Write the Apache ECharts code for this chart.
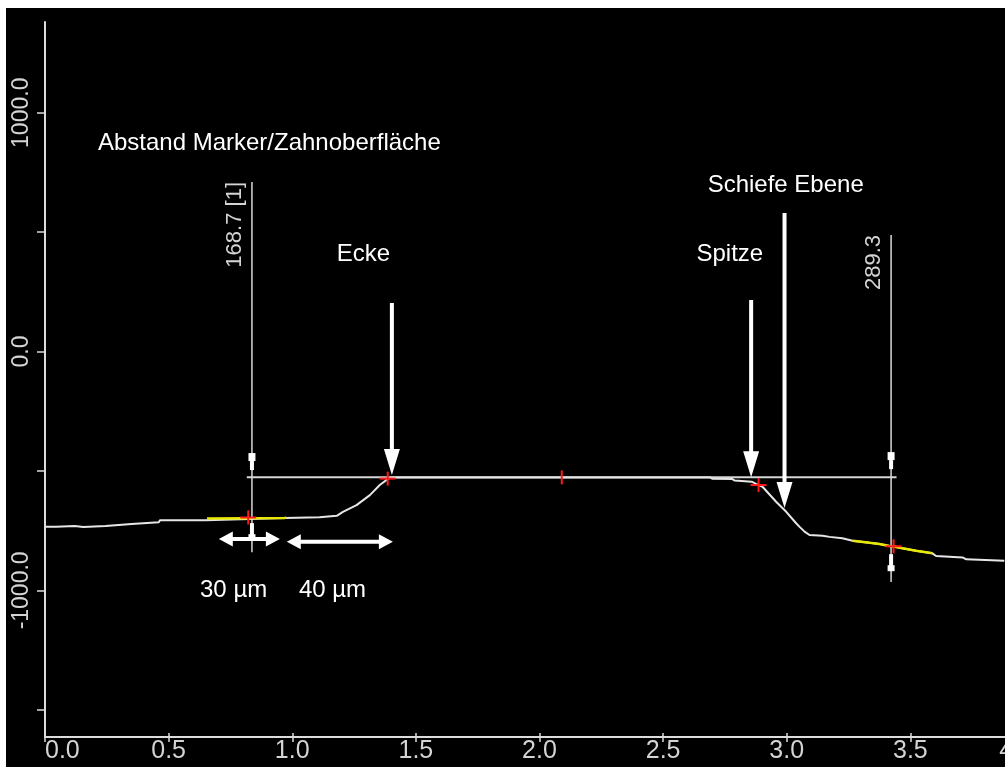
<!DOCTYPE html>
<html>
<head>
<meta charset="utf-8">
<script src="https://cdn.jsdelivr.net/npm/echarts@6/dist/echarts.min.js"></script>
<style>
  html, body { margin: 0; padding: 0; background: #fff; width: 1005px; height: 767px; overflow: hidden; }
  #chart { position: absolute; left: 6px; top: 8px; width: 999px; height: 759px; background: #000; }
</style>
</head>
<body>
<div id="chart"></div>
<script>
// Surface profile across the tooth: position in mm, height in µm
const profileX = [0, 0.045, 0.05, 0.12, 0.125, 0.155, 0.16, 0.245, 0.25, 0.35, 0.355, 0.46, 0.465, 0.65, 0.655,
  0.97, 0.975, 1.11, 1.115, 1.18, 1.205, 1.26, 1.314, 1.354, 1.386, 1.40, 2.69, 2.70, 2.78, 2.79, 2.858, 2.886,
  2.902, 2.957, 2.998, 3.038, 3.052, 3.072, 3.092, 3.145, 3.173, 3.225, 3.266, 3.335, 3.375, 3.415, 3.432,
  3.468, 3.523, 3.589, 3.604, 3.711, 3.726, 3.88];
const profileY = [-734, -734, -730, -730, -735, -735, -730, -730, -722, -722, -715, -715, -706, -706, -699,
  -697, -694, -694, -688, -688, -671, -643, -601, -559, -534, -527, -527, -533, -534, -540, -545, -559,
  -566, -629, -671, -719, -734, -754, -768, -771, -776, -782, -792, -801, -806, -814, -816,
  -824, -834, -845, -856, -862, -870, -876];

// Highlighted (evaluated) stretches of the profile, mm
const highlightRanges = [[0.655, 0.975], [3.266, 3.589]];

// Horizontal reference line through the edge and the tip
const refLevel = -526;
const refFrom = 0.816;
const refTo = 3.444;

// Distance markers: depth of the surface below the reference line, µm
const markerX = [0.837, 3.422];
const markerCrossX = [0.822, 3.432];
const markerDepth = [168.7, 289.3];
const markerText = ['168.7 [1]', '289.3'];
const markerTop = [710, 488];
const markerBottom = [-840, -965];
const handleUpper = [-446, -442];
const handleLower = [-752, -882];

// Measuring points on the profile (Ecke, Spitze) and the centre tick
const pointX = [1.386, 2.886];
const pointY = [-532, -559];
const centreX = [2.09];
const centreY = [-527];

// Axis ticks
const yTickValues = [-1500, -1000, -500, 0, 500, 1000];
const yLabelValues = [-1000, 0, 1000];

// Annotation arrows pointing down at the profile: x, top, tip
const arrowX = [1.403, 2.856, 2.991];
const arrowTop = [203, 216, 580];
const arrowTip = [-517, -526, -655];

// Double-headed span arrows: from, to, level
const spanFrom = [0.703, 0.978];
const spanTo = [0.950, 1.407];
const spanLevel = [-785, -796];

// Annotation texts: left edge x, centre y
const noteText = ['Abstand Marker/Zahnoberfläche', 'Ecke', 'Spitze', 'Schiefe Ebene', '30 µm', '40 µm'];
const noteX = [0.214, 1.180, 2.635, 2.680, 0.627, 1.027];
const noteY = [873, 408, 408, 697, -999, -999];

const profile = profileX.map((x, i) => [x, profileY[i]]);
const highlightSeries = highlightRanges.map(r => ({
  type: 'line',
  data: profile.filter(p => p[0] >= r[0] && p[0] <= r[1]),
  showSymbol: false,
  lineStyle: { color: '#e8e800', width: 2.5 },
  z: 4,
  silent: true
}));

// crosses: full "+" for the measuring points, vertical tick for the centre
const crossData = pointX.map((x, i) => [x, pointY[i], 1])
  .concat(markerCrossX.map((x, i) => [x, refLevel - markerDepth[i], 1]))
  .concat(centreX.map((x, i) => [x, centreY[i], 0]));

const axisColor = '#dcdcdc';
const labelColor = '#d4d4d4';
const red = '#ff1a1a';
const labelFont = 'Liberation Sans, Arial, sans-serif';

const chart = echarts.init(document.getElementById('chart'), null, { renderer: 'canvas' });

function cross(c, hx, vy) {
  const parts = [
    { type: 'line', shape: { x1: c[0], y1: c[1] - vy, x2: c[0], y2: c[1] + vy }, style: { stroke: red, lineWidth: 2 } }
  ];
  if (hx > 0) {
    parts.push({ type: 'line', shape: { x1: c[0] - hx, y1: c[1], x2: c[0] + hx, y2: c[1] }, style: { stroke: red, lineWidth: 2 } });
  }
  return parts;
}

chart.setOption({
  backgroundColor: '#000',
  animation: false,
  grid: { left: 39, top: 14, bottom: 30, right: -29, outerBoundsMode: 'none', containLabel: false },
  xAxis: [{
    type: 'value', min: 0, max: 4, interval: 0.5,
    axisLine: { onZero: false, lineStyle: { color: axisColor, width: 2 } },
    axisTick: { show: true, length: 5, lineStyle: { color: axisColor, width: 1.5 } },
    axisLabel: {
      color: labelColor, fontSize: 25, fontFamily: labelFont, margin: 2,
      alignMinLabel: 'left', alignMaxLabel: 'right', showMinLabel: true, showMaxLabel: true,
      formatter: v => v.toFixed(1)
    },
    splitLine: { show: false }
  }, {
    type: 'value', min: 0, max: 4, interval: 0.5, position: 'bottom',
    axisLine: { show: false, onZero: false },
    axisTick: { show: true, inside: true, length: 4, lineStyle: { color: axisColor, width: 1.5 } },
    axisLabel: { show: false },
    splitLine: { show: false }
  }],
  yAxis: {
    type: 'value', min: -1614, max: 1380,
    axisLine: { onZero: false, lineStyle: { color: axisColor, width: 2 } },
    axisTick: { show: true, length: 8, customValues: yTickValues, lineStyle: { color: axisColor, width: 1.5 } },
    axisLabel: {
      customValues: yLabelValues, rotate: 90, margin: 12,
      color: labelColor, fontSize: 23, fontFamily: labelFont,
      formatter: v => v.toFixed(1)
    },
    splitLine: { show: false }
  },
  series: [
    {
      type: 'line', data: profile, showSymbol: false, silent: true,
      lineStyle: { color: '#e6e6e6', width: 2 }, z: 3
    },
    ...highlightSeries,
    {
      type: 'line', data: [[refFrom, refLevel], [refTo, refLevel]], showSymbol: false, silent: true,
      lineStyle: { color: '#d6d6d6', width: 2 }, z: 2
    },
    {
      // distance markers with handles and value labels
      type: 'custom', silent: true, z: 5,
      data: markerX.map((x, i) => [x, markerTop[i]]),
      renderItem(params, api) {
        const i = params.dataIndex;
        const t = api.coord([markerX[i], markerTop[i]]);
        const b = api.coord([markerX[i], markerBottom[i]]);
        const hu = api.coord([markerX[i], handleUpper[i]]);
        const hl = api.coord([markerX[i], handleLower[i]]);
        return {
          type: 'group', children: [
            { type: 'line', shape: { x1: t[0], y1: t[1], x2: b[0], y2: b[1] }, style: { stroke: '#d8d8d8', lineWidth: 1.5 } },
            { type: 'rect', shape: { x: hu[0] - 3.5, y: hu[1] - 5, width: 7, height: 8 }, style: { fill: '#fff' } },
            { type: 'rect', shape: { x: hu[0] - 2, y: hu[1] + 3, width: 4, height: 9 }, style: { fill: '#fff' } },
            { type: 'rect', shape: { x: hl[0] - 2, y: hl[1] - 8, width: 4, height: 12 }, style: { fill: '#fff' } },
            { type: 'rect', shape: { x: hl[0] - 3.5, y: hl[1] + 3, width: 7, height: 6 }, style: { fill: '#fff' } },
            {
              type: 'text', x: t[0] - 17, y: t[1], rotation: Math.PI / 2,
              style: {
                text: markerText[i], fill: labelColor, fontSize: 22, fontFamily: labelFont,
                align: 'right', verticalAlign: 'middle'
              }
            }
          ]
        };
      }
    },
    {
      // red measuring crosses
      type: 'custom', silent: true, z: 6,
      data: crossData,
      renderItem(params, api) {
        const c = api.coord([api.value(0), api.value(1)]);
        const full = crossData[params.dataIndex][2] === 1;
        return { type: 'group', children: cross(c, full ? 8 : 0, 7) };
      }
    },
    {
      // downward annotation arrows
      type: 'custom', silent: true, z: 7,
      data: arrowX.map((x, i) => [x, arrowTop[i], arrowTip[i]]),
      renderItem(params, api) {
        const i = params.dataIndex;
        const t = api.coord([arrowX[i], arrowTop[i]]);
        const p = api.coord([arrowX[i], arrowTip[i]]);
        const x = t[0], hy = p[1] - 26;
        return {
          type: 'polygon',
          shape: { points: [[x - 2, t[1]], [x + 2, t[1]], [x + 2, hy], [x + 8, hy], [x, p[1]], [x - 8, hy], [x - 2, hy]] },
          style: { fill: '#fff' }
        };
      }
    },
    {
      // double-headed span arrows
      type: 'custom', silent: true, z: 7,
      data: spanFrom.map((x, i) => [x, spanLevel[i], spanTo[i]]),
      renderItem(params, api) {
        const i = params.dataIndex;
        const a = api.coord([spanFrom[i], spanLevel[i]]);
        const b = api.coord([spanTo[i], spanLevel[i]]);
        const y = a[1], h = 14, w = 7.5;
        return {
          type: 'polygon',
          shape: { points: [[a[0], y], [a[0] + h, y - w], [a[0] + h, y - 2], [b[0] - h, y - 2], [b[0] - h, y - w], [b[0], y],
            [b[0] - h, y + w], [b[0] - h, y + 2], [a[0] + h, y + 2], [a[0] + h, y + w]] },
          style: { fill: '#fff' }
        };
      }
    },
    {
      // annotation texts
      type: 'custom', silent: true, z: 8,
      data: noteX.map((x, i) => [x, noteY[i]]),
      renderItem(params, api) {
        const c = api.coord([api.value(0), api.value(1)]);
        return {
          type: 'text', x: c[0], y: c[1],
          style: {
            text: noteText[params.dataIndex], fill: '#fff', fontSize: 24,
            fontFamily: 'Liberation Sans, Arial, sans-serif', align: 'left', verticalAlign: 'middle'
          }
        };
      }
    }
  ]
});
</script>
</body>
</html>
